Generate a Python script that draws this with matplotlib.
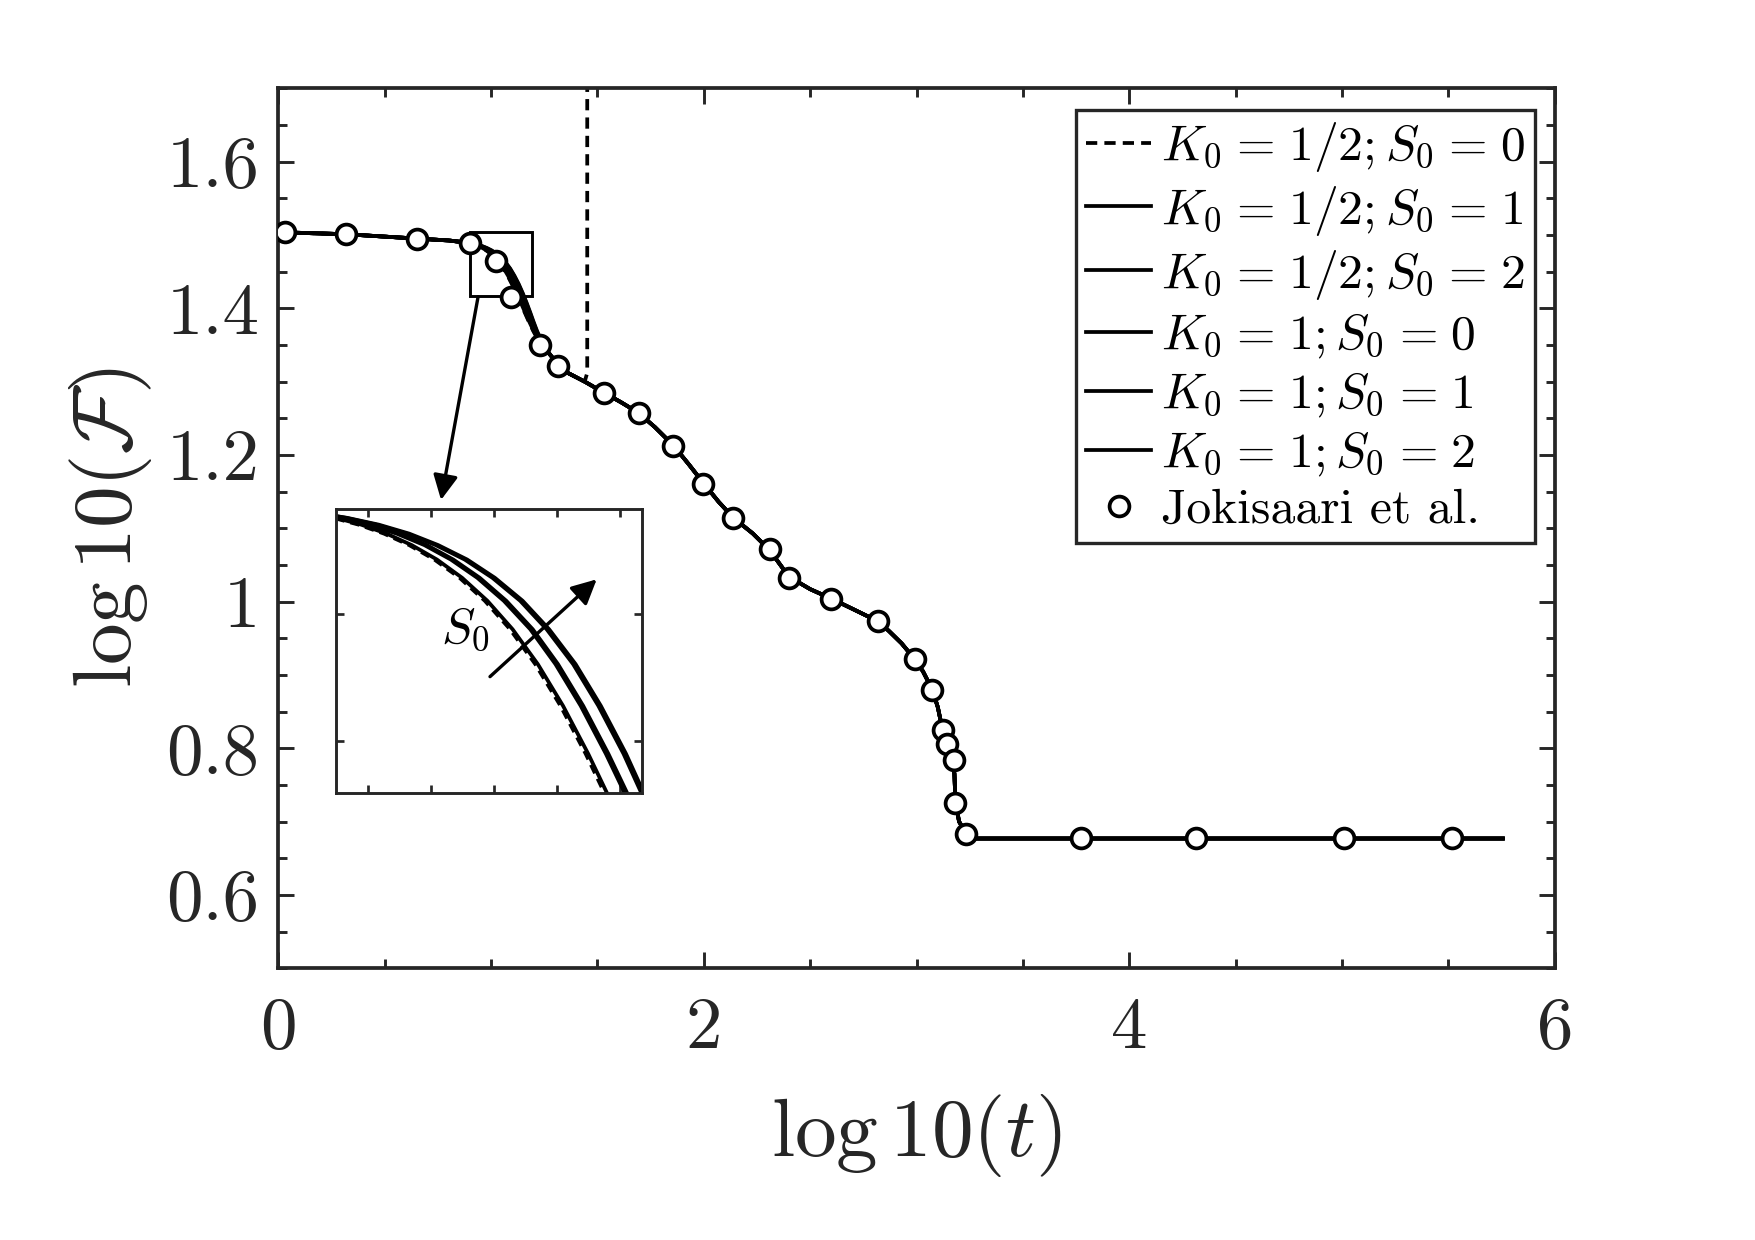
import numpy as np
import matplotlib
matplotlib.use("Agg")
import matplotlib.pyplot as plt
from matplotlib.patches import Rectangle, FancyArrowPatch

plt.rcParams["font.family"] = "serif"
plt.rcParams["font.serif"] = ["cmr10"]
plt.rcParams["mathtext.fontset"] = "cm"
plt.rcParams["axes.formatter.use_mathtext"] = True
plt.rcParams["axes.unicode_minus"] = False

# ---------------- data ----------------
# shared early part of all simulated curves
head_x = [0.03, 0.318, 0.653, 0.80]
head_y = [1.5035, 1.501, 1.495, 1.4925]

# knee region: y values shared, x differs per S0 (curves shift right with S0)
knee_y = [1.4897, 1.4885, 1.4869, 1.4848, 1.4821, 1.4787, 1.4744, 1.4690, 1.4623,
          1.4541, 1.4443, 1.4330, 1.4206, 1.4076, 1.3944, 1.3814, 1.3692, 1.3586,
          1.3498, 1.3423, 1.3355, 1.3290]
knee_x_k05_s0 = [0.880, 0.898, 0.918, 0.938, 0.958, 0.978, 0.998, 1.018, 1.038, 1.058, 1.078,
                 1.098, 1.118, 1.138, 1.158, 1.178, 1.198, 1.218, 1.239, 1.259, 1.280, 1.300]
knee_x_k05_s1 = [0.882, 0.905, 0.928, 0.950, 0.972, 0.993, 1.014, 1.035, 1.056, 1.076, 1.096,
                 1.116, 1.136, 1.155, 1.173, 1.191, 1.209, 1.227, 1.245, 1.263, 1.281, 1.300]
knee_x_k05_s2 = [0.884, 0.909, 0.934, 0.958, 0.981, 1.004, 1.026, 1.048, 1.069, 1.090, 1.110,
                 1.130, 1.149, 1.167, 1.184, 1.200, 1.216, 1.232, 1.247, 1.264, 1.281, 1.300]
knee_x_k1_s0 = [0.880, 0.900, 0.920, 0.940, 0.960, 0.980, 1.000, 1.020, 1.040, 1.060, 1.080,
                1.100, 1.120, 1.140, 1.160, 1.180, 1.200, 1.220, 1.240, 1.260, 1.280, 1.300]
knee_x_k1_s1 = [0.882, 0.904, 0.926, 0.948, 0.970, 0.991, 1.012, 1.033, 1.054, 1.074, 1.094,
                1.114, 1.134, 1.153, 1.171, 1.189, 1.207, 1.225, 1.243, 1.262, 1.281, 1.300]
knee_x_k1_s2 = [0.884, 0.908, 0.932, 0.956, 0.979, 1.002, 1.024, 1.046, 1.067, 1.088, 1.108,
                1.128, 1.147, 1.165, 1.182, 1.198, 1.214, 1.230, 1.246, 1.263, 1.281, 1.300]

# shared late part of the solid curves
tail_x = [1.316, 1.36, 1.44, 1.53, 1.61, 1.69, 1.77, 1.857, 1.93, 2.00, 2.07, 2.14, 2.23,
          2.31, 2.36, 2.40, 2.50, 2.60, 2.70, 2.82, 2.87, 2.93, 2.99, 3.03, 3.074, 3.10,
          3.122, 3.143, 3.165, 3.178, 3.183, 3.20, 3.234, 3.25, 3.77, 4.31, 5.01, 5.52, 5.756]
tail_y = [1.3240, 1.312, 1.300, 1.285, 1.272, 1.258, 1.238, 1.213, 1.187, 1.161, 1.136,
          1.114, 1.093, 1.070, 1.050, 1.034, 1.017, 1.004, 0.990, 0.973, 0.960, 0.943,
          0.922, 0.905, 0.880, 0.856, 0.8255, 0.806, 0.790, 0.765, 0.726, 0.700, 0.684,
          0.677, 0.677, 0.677, 0.677, 0.677, 0.677]

# K0 = 1/2, S0 = 0 diverges: runs up vertically
dash_tail_x = [1.36, 1.44, 1.452, 1.452]
dash_tail_y = [1.312, 1.300, 1.312, 1.80]

# Jokisaari et al. reference points
ref_x = [0.032, 0.318, 0.653, 0.900, 1.024, 1.093, 1.232, 1.316, 1.530, 1.693, 1.857,
         1.998, 2.139, 2.312, 2.402, 2.597, 2.821, 2.991, 3.072, 3.122, 3.143, 3.175,
         3.183, 3.234, 3.772, 4.313, 5.007, 5.519]
ref_y = [1.5035, 1.501, 1.495, 1.4885, 1.4648, 1.4157, 1.3505, 1.3212, 1.2842, 1.2572,
         1.2125, 1.1602, 1.1142, 1.0722, 1.0322, 1.0032, 0.9732, 0.922, 0.880, 0.8255,
         0.8064, 0.7836, 0.726, 0.6836, 0.6775, 0.6775, 0.6775, 0.6775]

_sp = r"\hspace{0.1}"
labels = [rf"$K_0{_sp}={_sp}1/2; S_0{_sp}={_sp}0$", rf"$K_0{_sp}={_sp}1/2; S_0{_sp}={_sp}1$",
          rf"$K_0{_sp}={_sp}1/2; S_0{_sp}={_sp}2$", rf"$K_0{_sp}={_sp}1; S_0{_sp}={_sp}0$",
          rf"$K_0{_sp}={_sp}1; S_0{_sp}={_sp}1$", rf"$K_0{_sp}={_sp}1; S_0{_sp}={_sp}2$"]
ref_label = "Jokisaari et al."

xticks = [0, 2, 4, 6]
xtick_labels = ["0", "2", "4", "6"]
yticks = [0.6, 0.8, 1.0, 1.2, 1.4, 1.6]
ytick_labels = ["0.6", "0.8", "1", "1.2", "1.4", "1.6"]

# ---------------- build series ----------------
def build(kx, tx, ty):
    return (np.concatenate([head_x, kx, tx]), np.concatenate([head_y, knee_y, ty]))

series = [
    build(knee_x_k05_s0, dash_tail_x, dash_tail_y),
    build(knee_x_k05_s1, tail_x, tail_y),
    build(knee_x_k05_s2, tail_x, tail_y),
    build(knee_x_k1_s0, tail_x, tail_y),
    build(knee_x_k1_s1, tail_x, tail_y),
    build(knee_x_k1_s2, tail_x, tail_y),
]
styles = ["--", "-", "-", "-", "-", "-"]

DARK = "#262626"
LW = 1.8

fig = plt.figure(figsize=(11.7, 8.2667), dpi=150)
ax = fig.add_axes([0.1586, 0.2191, 0.7273, 0.7097])

handles = []
for (sx, sy), ls, lab in zip(series, styles, labels):
    if ls == "--":
        h, = ax.plot(sx, sy, color="black", lw=LW, ls=ls, dashes=(3.0, 1.9), label=lab,
                     zorder=2, solid_joinstyle="round")
    else:
        h, = ax.plot(sx, sy, color="black", lw=LW, ls=ls, label=lab, zorder=2,
                     solid_joinstyle="round")
    handles.append(h)
hm, = ax.plot(ref_x, ref_y, ls="none", marker="o", ms=9.5, mfc="white", mec="black",
              mew=1.8, label=ref_label, zorder=5)
handles.append(hm)

ax.set_xlim(0, 6)
ax.set_ylim(0.5, 1.7)
ax.set_xticks(xticks)
ax.set_xticklabels(xtick_labels)
ax.set_yticks(yticks)
ax.set_yticklabels(ytick_labels)
ax.set_xticks(np.arange(0, 6.01, 0.5), minor=True)
ax.set_yticks(np.arange(0.5, 1.701, 0.05), minor=True)
ax.tick_params(which="both", direction="in", top=True, right=True, colors=DARK,
               width=1.4)
ax.tick_params(which="major", length=7.5, labelsize=35, pad=9)
ax.tick_params(axis="x", which="major", pad=14)
ax.tick_params(which="minor", length=4.5)
for sp in ax.spines.values():
    sp.set_color(DARK)
    sp.set_linewidth(1.8)

ax.set_xlabel(r"$\log 10(t)$", fontsize=40, color=DARK, labelpad=14)
ax.set_ylabel(r"$\log 10(\mathcal{F})$", fontsize=40, color=DARK, labelpad=6)

# zoom box
ax.add_patch(Rectangle((0.901, 1.4166), 0.293, 0.0869, fill=False, ec="black",
                       lw=1.4, zorder=3))

leg = ax.legend(handles=handles, loc="upper right", bbox_to_anchor=(0.8746, 0.9113),
                bbox_transform=fig.transFigure, borderaxespad=0, fontsize=23.8,
                frameon=True, fancybox=False, framealpha=1, edgecolor=DARK,
                handlelength=1.3, handletextpad=0.2, labelspacing=0.2, borderpad=0.2,
                numpoints=1)
leg.get_frame().set_linewidth(1.6)

# inset
ins = fig.add_axes([0.1915, 0.3602, 0.1742, 0.229])
for (sx, sy), ls in zip(series, styles):
    if ls == "--":
        ins.plot(sx, sy, color="black", lw=LW, ls=ls, dashes=(2.5, 1.6))
    else:
        ins.plot(sx, sy, color="black", lw=LW, ls=ls)
ins.set_xlim(0.90, 1.1425)
ins.set_ylim(1.4237, 1.4905)
ins.set_xticks([0.925, 0.975, 1.025, 1.075, 1.125])
ins.set_yticks([1.436, 1.466])
ins.set_xticklabels([])
ins.set_yticklabels([])
ins.tick_params(direction="in", top=True, right=True, length=4, width=1.3, colors=DARK)
for sp in ins.spines.values():
    sp.set_color(DARK)
    sp.set_linewidth(1.4)

arrow_style = "-|>,head_length=0.5,head_width=0.25"
ax.annotate("", xy=(0.2513, 0.5968), xycoords="figure fraction",
            xytext=(0.939, 1.4158), textcoords="data",
            arrowprops=dict(arrowstyle=arrow_style, color="black", lw=1.6,
                            mutation_scale=20, shrinkA=0, shrinkB=0),
            annotation_clip=False)
fig.text(0.265, 0.4927, r"$S_0$", fontsize=24, ha="center", va="center")
arr2 = FancyArrowPatch((0.2792, 0.4543), (0.340, 0.5328), transform=fig.transFigure,
                       arrowstyle=arrow_style, color="black", lw=1.6,
                       mutation_scale=20, shrinkA=0, shrinkB=0, zorder=10)
fig.add_artist(arr2)

fig.savefig("out.png", dpi=150)
